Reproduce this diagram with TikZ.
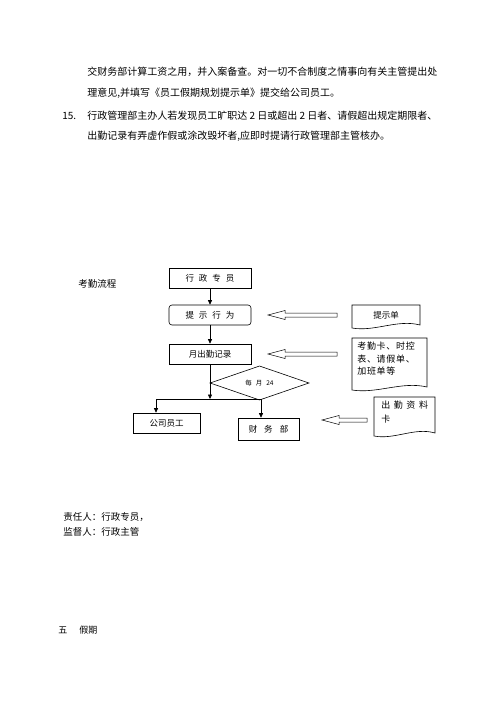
\documentclass[tikz,border=0pt]{standalone}
\usepackage{fontspec}
\setmainfont{Noto Sans CJK SC}
\newfontfamily\spacedA[LetterSpace=8]{Noto Sans CJK SC}
\newfontfamily\spacedB[LetterSpace=40]{Noto Sans CJK SC}
\usetikzlibrary{arrows.meta,shapes.geometric,calc}
\XeTeXlinebreaklocale "zh"
\XeTeXlinebreakskip=0pt plus 1pt
\newcommand\hollowarrow[2]{%
  \draw[line width=0.5pt] ($(#1)+(0,-2)$) -- ($(#2)+(17,-2)$) -- ($(#2)+(17,-4.5)$) -- (#2)
   -- ($(#2)+(17,4.5)$) -- ($(#2)+(17,2)$) -- ($(#1)+(0,2)$) -- cycle;}
\newcommand\docpath[4]{% x1 y1 x2 yb
  \pgfmathsetmacro\dA{#3-(#3-#1)/3}\pgfmathsetmacro\dB{#1+(#3-#1)/3}%
  \draw (#1,#2) -- (#3,#2) -- (#3,#4-3) .. controls (\dA,#4-9) and (\dB,#4+4) .. (#1,#4) -- cycle;}
\begin{document}
\begin{tikzpicture}[x=1pt,y=-1pt,line width=0.6pt,
  txt/.style={anchor=west,inner sep=0pt,font=\fontsize{10}{12}\selectfont},
  stxt/.style={anchor=west,inner sep=0pt,font=\fontsize{9.5}{12}\selectfont},
  fbox/.style={draw,minimum width=82pt,minimum height=20pt,inner sep=0pt,font=\fontsize{8.5}{10}\selectfont},
  arr/.style={-{Triangle[length=4.5pt,width=4pt]}}]
\fill[white] (0,0) rectangle (500,707);
\useasboundingbox (0,0) rectangle (500,707);
% paragraph text
\node[txt] (l1) at (87,72) {\makebox[351pt][s]{交财务部计算工资之用，并入案备查。对一切不合制度之情事向有关主管提出处}};
\node[txt] (l2) at (87,93) {理意见,并填写《员工假期规划提示单》提交给公司员工。};
\node[txt] (n15) at (62,116) {15.};
\node[txt] (l3) at (87,116) {\makebox[350pt][s]{行政管理部主办人若发现员工旷职达 2 日或超出 2 日者、请假超出规定期限者、}};
\node[txt] (l4) at (87,136) {出勤记录有弄虚作假或涂改毁坏者,应即时提请行政管理部主管核办。};
% flow chart
\node[stxt] (title) at (78,284) {考勤流程};
\node[fbox] (b1) at (210,278) {行\hspace{5pt}政\hspace{5pt}专\hspace{5pt}员};
\node[fbox,rounded corners=3pt] (b2) at (210,315) {提\hspace{5pt}示\hspace{5pt}行\hspace{5pt}为};
\node[fbox] (b3) at (210,354) {月出勤记录};
\node[draw,diamond,minimum width=99pt,minimum height=27pt,inner sep=0pt,
      font=\fontsize{6.5}{7}\selectfont] (d) at (259.5,383) {每\hspace{4pt}月\hspace{4pt}24};
\node[fbox,minimum width=67pt] (c1) at (166.5,423) {公司员工};
\node[fbox,minimum width=61pt,minimum height=22pt] (c2) at (268.5,429) {财\hspace{7pt}务\hspace{7pt}部};
\draw[arr] (b1) -- (b2);
\draw[arr] (b2) -- (b3);
\coordinate (j) at (210,399);
\coordinate (jl) at (156,399);
\coordinate (jr) at (261,399);
\draw[arr] (b3) -- (j);
\draw (jl) -- (jr);
\draw[arr] (jl) -- (jl |- c1.north);
\draw[arr] (jr) -- (jr |- c2.north);
% documents
\docpath{352}{305}{420}{328}
\node[inner sep=0pt,font=\fontsize{8.5}{10}\selectfont] (p1) at (386,315) {提示单};
\docpath{352}{338}{427}{390}
\node[anchor=north west,inner sep=0pt,align=left,font=\fontsize{9}{12.5}\spacedA] (p2) at (357,342) {考勤卡、时控\\表、请假单、\\加班单等};
\docpath{374}{397}{435}{436}
\node[anchor=north west,inner sep=0pt,align=left,font=\fontsize{9}{14}\spacedB] (p3) at (381,401) {出勤资料\\卡};
% hollow arrows
\coordinate (a1s) at (337,315); \coordinate (a1e) at (268,315);
\coordinate (a2s) at (337,354); \coordinate (a2e) at (268,354);
\coordinate (a3s) at (367,420); \coordinate (a3e) at (322,420);
\hollowarrow{a1s}{a1e}
\hollowarrow{a2s}{a2e}
\hollowarrow{a3s}{a3e}
% bottom text
\node[stxt] (r1) at (63,517) {责任人：行政专员，};
\node[stxt] (r2) at (63,532) {监督人：行政主管};
\node[stxt,font=\fontsize{9}{11}\selectfont] (s5) at (58,630) {五\hspace{12pt}假期};
\end{tikzpicture}
\end{document}
